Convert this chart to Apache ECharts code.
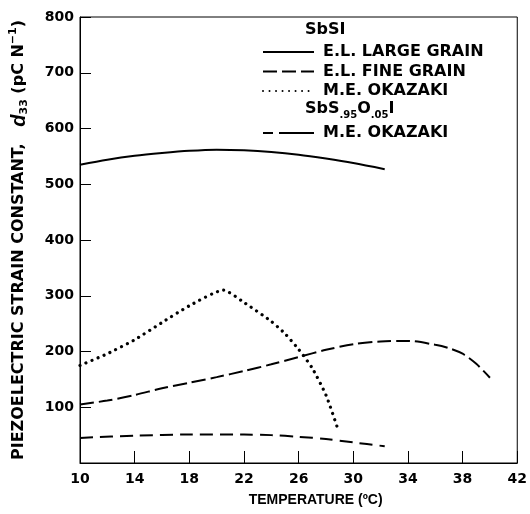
<!DOCTYPE html>
<html>
<head>
<meta charset="utf-8">
<script src="https://cdn.jsdelivr.net/npm/echarts@6/dist/echarts.min.js"></script>
<style>html,body{margin:0;padding:0;background:#fff}#c{width:530px;height:514px}</style>
</head>
<body>
<div id="c"></div>
<script>
// Temperature ticks
const xTicks = [10, 14, 18, 22, 26, 30, 34, 38, 42];
const yTicks = [100, 200, 300, 400, 500, 600, 700, 800];

// SbSI, E.L. large grain
const largeT = [10, 12, 14, 16, 18, 20, 22, 24, 26, 28, 30, 32.3];
const largeD = [535, 544, 551, 556, 560, 562, 561, 558, 553, 546, 538, 527];
// SbSI, E.L. fine grain
const fineT = [10, 12, 14, 16, 18, 20, 22, 24, 26, 28, 30, 32, 34, 36, 37, 38, 39, 40];
const fineD = [105, 112, 122, 134, 144, 154, 165, 177, 190, 203, 213, 218, 219, 212, 206, 196, 178, 153];
// SbSI, M.E. Okazaki
const okaT = [10, 12, 14, 16, 18, 20.5, 22, 24, 25, 26, 27, 28, 28.8];
const okaD = [175, 196, 221, 252, 282, 310, 288, 254, 232, 204, 170, 122, 66];
// SbS.95O.05I, M.E. Okazaki
const oxT = [10, 14, 18, 22, 24, 26, 28, 30, 32.3];
const oxD = [45, 49, 51, 51, 50, 47, 43, 37, 30];

const pairs = (t, d) => t.map((v, i) => [v, d[i]]);
const FONT = '"Liberation Sans", Arial, Helvetica, sans-serif';
const DJ = '"DejaVu Sans", sans-serif';
const chart = echarts.init(document.getElementById('c'), null, {renderer: 'canvas'});

const series = [
  {name: 'E.L. LARGE GRAIN', data: pairs(largeT, largeD), lineStyle: {type: 'solid', width: 2}, smooth: 0.3},
  {name: 'E.L. FINE GRAIN', data: pairs(fineT, fineD), lineStyle: {type: [14, 5], width: 2}, smooth: 0.3},
  {name: 'M.E. OKAZAKI', data: pairs(okaT, okaD), lineStyle: {type: [0.01, 6.5], width: 3.2, cap: 'round'}, smooth: 0.2},
  {name: 'M.E. OKAZAKI (SbS.95O.05I)', data: pairs(oxT, oxD), lineStyle: {type: [13, 7], width: 2}, smooth: 0.3}
].map(s => Object.assign({type: 'line', symbol: 'none', color: '#000', animation: false}, s));

const legendText = {fontFamily: DJ, fontWeight: 'bold', fontSize: 16, lineHeight: 16, color: '#000', padding: [0, 0, 0, 4]};

chart.setOption({
  animation: false,
  backgroundColor: '#fff',
  grid: {left: 77, right: 10, top: 17, bottom: 51, show: true, borderColor: '#000', borderWidth: 1},
  xAxis: {
    type: 'value', min: 10, max: 42, interval: 4,
    name: 'TEMPERATURE (ºC)', nameLocation: 'middle', nameGap: 30,
    nameTextStyle: {fontFamily: FONT, fontWeight: 'bold', fontSize: 14, color: '#000', padding: [0, 0, 0, 34]},
    axisLine: {lineStyle: {color: '#000', width: 1}},
    axisTick: {inside: true, length: 12, lineStyle: {color: '#000'}},
    splitLine: {show: false},
    axisLabel: {fontFamily: DJ, fontWeight: 'bold', fontSize: 14, color: '#000', margin: 9,
      formatter: v => xTicks.includes(v) ? String(v) : ''}
  },
  yAxis: {
    type: 'value', min: 0, max: 800, interval: 100,
    name: '{a|PIEZOELECTRIC STRAIN CONSTANT,   }{d|d}{sub|33}{a| (pC N}{sup|−1}{a|)}',
    nameLocation: 'middle', nameGap: 50, nameRotate: 90,
    nameTextStyle: {
      fontFamily: DJ, fontWeight: 'bold', fontSize: 16, color: '#000',
      rich: {
        a: {fontFamily: DJ, fontWeight: 'bold', fontSize: 16, color: '#000', lineHeight: 22, verticalAlign: 'middle'},
        d: {fontFamily: FONT, fontStyle: 'italic', fontWeight: 'bold', fontSize: 20, color: '#000', lineHeight: 22, verticalAlign: 'middle'},
        sub: {fontFamily: DJ, fontWeight: 'bold', fontSize: 11, color: '#000', lineHeight: 22, verticalAlign: 'bottom'},
        sup: {fontFamily: DJ, fontWeight: 'bold', fontSize: 11, color: '#000', lineHeight: 22, verticalAlign: 'top'}
      }
    },
    axisLine: {show: true, lineStyle: {color: '#000', width: 1}},
    axisTick: {show: true, inside: true, length: 11, lineStyle: {color: '#000'}},
    splitLine: {show: false},
    axisLabel: {fontFamily: DJ, fontWeight: 'bold', fontSize: 14, color: '#000', margin: 6,
      formatter: v => yTicks.includes(v) ? String(v) : ''}
  },
  legend: [
    {
      data: ['E.L. LARGE GRAIN', 'E.L. FINE GRAIN', 'M.E. OKAZAKI'],
      orient: 'vertical', left: 262, top: 44, padding: 0, itemGap: 3.5,
      itemWidth: 51, itemHeight: 16, selectedMode: false,
      itemStyle: {opacity: 0},
      textStyle: legendText
    },
    {
      data: [{name: 'M.E. OKAZAKI (SbS.95O.05I)', lineStyle: {type: [10, 6, 35, 0]}}],
      orient: 'vertical', left: 262, top: 125, padding: 0,
      itemWidth: 51, itemHeight: 16, selectedMode: false,
      itemStyle: {opacity: 0},
      formatter: () => 'M.E. OKAZAKI',
      textStyle: legendText
    }
  ],
  graphic: [
    {type: 'text', left: 305, top: 22, style: {text: 'SbSI', font: 'bold 16px ' + DJ, fill: '#000'}},
    {type: 'text', left: 305, top: 101, style: {
      text: '{a|SbS}{s|.95}{a|O}{s|.05}{a|I}',
      rich: {
        a: {font: 'bold 16px ' + DJ, fill: '#000', lineHeight: 22, verticalAlign: 'middle'},
        s: {font: 'bold 10px ' + DJ, fill: '#000', lineHeight: 22, verticalAlign: 'bottom'}
      }
    }}
  ],
  series: series
});
</script>
</body>
</html>
